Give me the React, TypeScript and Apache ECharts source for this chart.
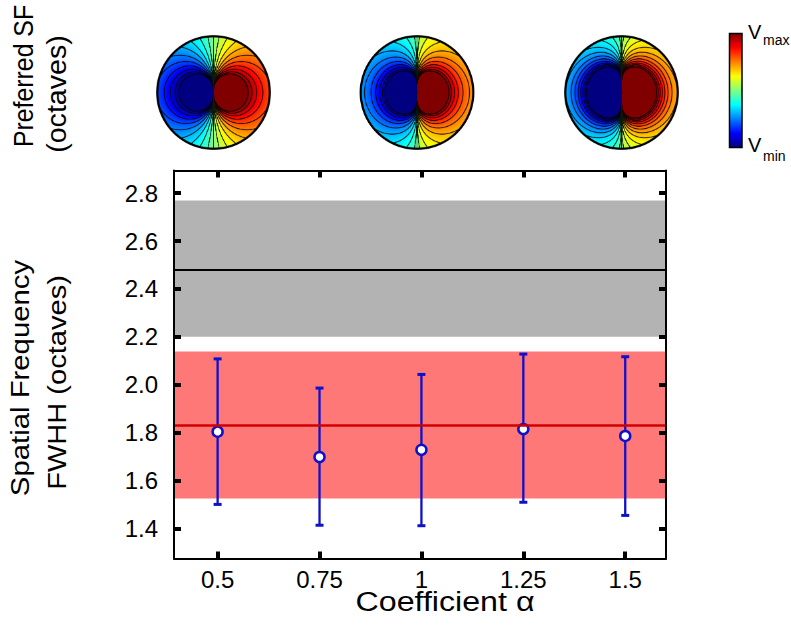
import React, { useEffect, useRef } from "react";
import * as echarts from "echarts";

// ---- data ----
const alphaTicks = [0.5, 0.75, 1, 1.25, 1.5];
const yTicks = [1.4, 1.6, 1.8, 2.0, 2.2, 2.4, 2.6, 2.8];
const meanFWHH = [1.804, 1.698, 1.728, 1.815, 1.786];
const lowerFWHH = [1.5, 1.413, 1.411, 1.509, 1.454];
const upperFWHH = [2.108, 1.986, 2.043, 2.128, 2.117];
const grayBand = [2.2, 2.77];
const grayLine = 2.484;
const redBand = [1.525, 2.139];
const redLine = 1.83;
const discAlphas = [0.5, 1, 1.5];

// ---- illustration styling (not data) ----
const discShapes = [
  { a: 0.627, k: 1.0, p: 0.8, N: 10 },
  { a: 0.58, k: 1.4, p: 0.5, N: 10 },
  { a: 0.636, k: 1.9, p: 0.5, N: 12 },
];
const discCenters = [
  [213.5, 92.5],
  [417, 92.5],
  [621.5, 92.5],
];
const DISC_D = 115;

const FONT = "'Liberation Sans', Arial, Helvetica, sans-serif";
const BLUE = "#1010c8";

function jet(t: number): [number, number, number] {
  const c = (v: number) => Math.max(0, Math.min(1, v));
  return [c(1.5 - Math.abs(4 * t - 3)), c(1.5 - Math.abs(4 * t - 2)), c(1.5 - Math.abs(4 * t - 1))];
}

function renderDisc(shape: { a: number; k: number; p: number; N: number }, D: number, S: number): string {
  const size = Math.round(D * S);
  const canvas = document.createElement("canvas");
  canvas.width = size;
  canvas.height = size;
  const ctx = canvas.getContext("2d");
  if (!ctx) return "";
  const img = ctx.createImageData(size, size);
  const d = img.data;
  const c = size / 2;
  const Rout = c - 0.5;
  const Rin = Rout - 2.2 * S;
  const { a, k, p, N } = shape;
  const f = (x: number, y: number) => {
    const r = Math.sqrt(x * x + y * y) + 1e-9;
    const cs = x / r;
    return Math.sign(cs) * Math.pow(Math.abs(cs), p) * Math.pow(a / r, k) * N;
  };
  const h = 0.5 / Rin;
  const lw = 0.9 * S;
  for (let j = 0; j < size; j++) {
    for (let i = 0; i < size; i++) {
      const px = i + 0.5 - c;
      const py = j + 0.5 - c;
      const rr = Math.hypot(px, py);
      const o = (j * size + i) * 4;
      const alpha = Math.max(0, Math.min(1, Rout - rr + 0.5));
      if (alpha <= 0) {
        d[o + 3] = 0;
        continue;
      }
      let R = 0,
        G = 0,
        B = 0;
      const borderCov = Math.max(0, Math.min(1, rr - Rin + 0.5));
      if (borderCov < 1) {
        const x = px / Rin;
        const y = -py / Rin;
        const u = f(x, y);
        const uc = Math.max(-N, Math.min(N, u));
        const col = jet((uc / N + 1) / 2);
        const gx = f(x + h, y) - f(x - h, y);
        const gy = f(x, y + h) - f(x, y - h);
        const g = Math.hypot(gx, gy) + 1e-12;
        let L = Math.round(u);
        if (L > N) L = N;
        if (L < -N) L = -N;
        const dist = Math.abs(u - L) / g;
        let lineCov = Math.max(0, Math.min(1, lw / 2 - dist + 0.5));
        if (!isFinite(lineCov)) lineCov = 1;
        lineCov *= 0.9;
        const cov = Math.max(lineCov, borderCov);
        R = col[0] * 255 * (1 - cov);
        G = col[1] * 255 * (1 - cov);
        B = col[2] * 255 * (1 - cov);
      }
      d[o] = R;
      d[o + 1] = G;
      d[o + 2] = B;
      d[o + 3] = alpha * 255;
    }
  }
  ctx.putImageData(img, 0, 0);
  return canvas.toDataURL();
}

function vText(text: string, x: number, y: number, fontSize: number, scaleX: number) {
  return {
    type: "text",
    x,
    y,
    rotation: Math.PI / 2,
    scaleX,
    style: {
      text,
      fontSize,
      fontFamily: FONT,
      fill: "#000",
      align: "center",
      verticalAlign: "middle",
      textAlign: "center",
      textVerticalAlign: "middle",
    },
  };
}

function hText(text: string, x: number, y: number, fontSize: number, align: string, scaleX = 1) {
  return {
    type: "text",
    x,
    y,
    scaleX,
    style: {
      text,
      fontSize,
      fontFamily: FONT,
      fill: "#000",
      align,
      verticalAlign: "middle",
      textAlign: align,
      textVerticalAlign: "middle",
    },
  };
}

export default function App() {
  const ref = useRef<HTMLDivElement>(null);
  useEffect(() => {
    document.body.style.margin = "0";
    const el = ref.current;
    if (!el) return;
    const chart = echarts.init(el, null, { renderer: "svg" });

    const discImgs = discAlphas.map((_, i) => renderDisc(discShapes[i], DISC_D, 3));

    const X_MIN = 0.393;
    const X_MAX = 1.6;
    const Y_MIN = 1.274;
    const Y_MAX = 2.895;

    const axisLine = { show: true, onZero: false, lineStyle: { color: "#000", width: 2 } };
    const tickStyle = { color: "#000", width: 4 };

    const graphicEls: any[] = [];
    discImgs.forEach((src, i) => {
      graphicEls.push({
        type: "image",
        x: discCenters[i][0] - DISC_D / 2,
        y: discCenters[i][1] - DISC_D / 2,
        style: { image: src, width: DISC_D, height: DISC_D },
      });
    });
    graphicEls.push({
      type: "rect",
      shape: { x: 729.5, y: 33.5, width: 12.5, height: 114 },
      style: {
        fill: new echarts.graphic.LinearGradient(0, 0, 0, 1, [
          { offset: 0, color: "#800000" },
          { offset: 0.125, color: "#ff0000" },
          { offset: 0.375, color: "#ffff00" },
          { offset: 0.5, color: "#80ff80" },
          { offset: 0.625, color: "#00ffff" },
          { offset: 0.875, color: "#0000ff" },
          { offset: 1, color: "#000080" },
        ]),
        stroke: "#000",
        lineWidth: 1.5,
      },
    });
    graphicEls.push(hText("V", 748, 31.7, 20, "left"));
    graphicEls.push(hText("max", 763, 40, 14, "left"));
    graphicEls.push(hText("V", 748, 144.5, 20, "left"));
    graphicEls.push(hText("min", 763, 156, 14, "left"));

    graphicEls.push(vText("Preferred SF", 23.5, 76, 27, 0.92));
    graphicEls.push(vText("(octaves)", 57, 94, 27, 1.06));
    graphicEls.push(vText("Spatial Frequency", 20.5, 378, 25.5, 1.15));
    graphicEls.push(vText("FWHH (octaves)", 57, 382.5, 25.5, 1.14));
    graphicEls.push(hText("Coefficient α", 445, 601, 28, "center", 1.15));

    const option: any = {
      animation: false,
      grid: { left: 174, top: 170.5, width: 492, height: 388, show: false },
      xAxis: [
        {
          type: "value",
          min: X_MIN,
          max: X_MAX,
          position: "bottom",
          z: 10,
          axisLine,
          axisTick: { show: true, inside: true, length: 7, lineStyle: tickStyle, customValues: alphaTicks },
          axisLabel: {
            show: true,
            customValues: alphaTicks,
            color: "#000",
            fontSize: 24,
            fontFamily: FONT,
            margin: 9,
            formatter: (v: number) => String(v),
          },
          splitLine: { show: false },
        },
        {
          type: "value",
          min: X_MIN,
          max: X_MAX,
          position: "top",
          z: 10,
          axisLine,
          axisTick: { show: true, inside: true, length: 7, lineStyle: tickStyle, customValues: alphaTicks },
          axisLabel: { show: false },
          splitLine: { show: false },
        },
      ],
      yAxis: [
        {
          type: "value",
          min: Y_MIN,
          max: Y_MAX,
          position: "left",
          z: 10,
          axisLine,
          axisTick: { show: true, inside: true, length: 7, lineStyle: tickStyle, customValues: yTicks },
          axisLabel: {
            show: true,
            customValues: yTicks,
            color: "#000",
            fontSize: 24,
            fontFamily: FONT,
            margin: 16,
            formatter: (v: number) => v.toFixed(1),
          },
          splitLine: { show: false },
        },
        {
          type: "value",
          min: Y_MIN,
          max: Y_MAX,
          position: "right",
          z: 10,
          axisLine,
          axisTick: { show: true, inside: true, length: 7, lineStyle: tickStyle, customValues: yTicks },
          axisLabel: { show: false },
          splitLine: { show: false },
        },
      ],
      graphic: { elements: graphicEls },
      series: [
        {
          type: "line",
          name: "reference",
          data: [],
          z: 1,
          silent: true,
          markArea: {
            silent: true,
            label: { show: false },
            data: [
              [{ yAxis: grayBand[0], itemStyle: { color: "#b3b3b3", opacity: 1 } }, { yAxis: grayBand[1] }],
              [{ yAxis: redBand[0], itemStyle: { color: "#ff7878", opacity: 1 } }, { yAxis: redBand[1] }],
            ],
          },
          markLine: {
            silent: true,
            symbol: ["none", "none"],
            label: { show: false },
            data: [
              { yAxis: grayLine, lineStyle: { color: "#000", width: 2, type: "solid" } },
              { yAxis: redLine, lineStyle: { color: "#d00000", width: 2.5, type: "solid" } },
            ],
          },
        },
        {
          type: "custom",
          name: "error",
          z: 3,
          silent: true,
          encode: { x: 0, y: [1, 2] },
          data: alphaTicks.map((x, i) => [x, lowerFWHH[i], upperFWHH[i]]),
          renderItem: (params: any, api: any) => {
            const x = api.value(0);
            const lo = api.coord([x, api.value(1)]);
            const hi = api.coord([x, api.value(2)]);
            const cw = 4;
            return {
              type: "group",
              children: [
                {
                  type: "line",
                  shape: { x1: lo[0], y1: lo[1], x2: hi[0], y2: hi[1] },
                  style: { stroke: BLUE, lineWidth: 2.3 },
                },
                {
                  type: "line",
                  shape: { x1: hi[0] - cw, y1: hi[1], x2: hi[0] + cw, y2: hi[1] },
                  style: { stroke: BLUE, lineWidth: 3 },
                },
                {
                  type: "line",
                  shape: { x1: lo[0] - cw, y1: lo[1], x2: lo[0] + cw, y2: lo[1] },
                  style: { stroke: BLUE, lineWidth: 3 },
                },
              ],
            };
          },
        },
        {
          type: "scatter",
          name: "mean",
          z: 4,
          symbol: "circle",
          symbolSize: 10,
          itemStyle: { color: "#ffffff", borderColor: BLUE, borderWidth: 2.5, opacity: 1 },
          data: alphaTicks.map((x, i) => [x, meanFWHH[i]]),
        },
      ],
    };
    chart.setOption(option);
    return () => chart.dispose();
  }, []);
  return <div ref={ref} style={{ width: 791, height: 629 }} />;
}
